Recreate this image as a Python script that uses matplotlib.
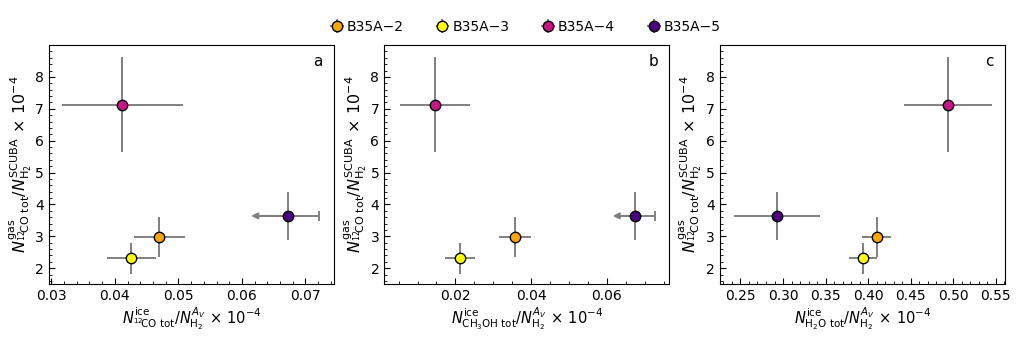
import numpy as np
import matplotlib
matplotlib.use('Agg')
import matplotlib.pyplot as plt
from matplotlib.ticker import AutoMinorLocator, MultipleLocator

sources = ['B35A\u22122', 'B35A\u22123', 'B35A\u22124', 'B35A\u22125']
colors = ['orange', 'yellow', 'mediumvioletred', 'indigo']

# gas-phase CO / N(H2) SCUBA (x 1e-4), shared by all panels
co_gas = [2.97, 2.31, 7.13, 3.64]
co_gas_err = [0.62, 0.48, 1.50, 0.76]

# ice column densities / N(H2) from A_V (x 1e-4)
co_ice = [0.0470, 0.0426, 0.0412, 0.0672]
co_ice_err = [0.0040, 0.0039, 0.0095, 0.0050]
ch3oh_ice = [0.0358, 0.0213, 0.0146, 0.0675]
ch3oh_ice_err = [0.0042, 0.0040, 0.0092, 0.0052]
h2o_ice = [0.410, 0.394, 0.494, 0.293]
h2o_ice_err = [0.017, 0.016, 0.052, 0.051]

# sources with only an upper limit on the ice abundance, per panel
uplim = [[False, False, False, True],
         [False, False, False, True],
         [False, False, False, False]]

panels = [
    (co_ice, co_ice_err, 'a', (0.0296, 0.0745), 0.01,
     r'$N^{\rm ice}_{^{12}\!{\rm CO\ tot}}/N^{A_V}_{\rm H_2}\,\times\,10^{-4}$'),
    (ch3oh_ice, ch3oh_ice_err, 'b', (0.0012, 0.0765), 0.02,
     r'$N^{\rm ice}_{\rm CH_3OH\ tot}/N^{A_V}_{\rm H_2}\,\times\,10^{-4}$'),
    (h2o_ice, h2o_ice_err, 'c', (0.2255, 0.5605), 0.05,
     r'$N^{\rm ice}_{\rm H_2O\ tot}/N^{A_V}_{\rm H_2}\,\times\,10^{-4}$'),
]
ylab = r'$N^{\rm gas}_{^{12}\!{\rm CO\ tot}}/N^{\rm SCUBA}_{\rm H_2}\,\times\,10^{-4}$'

ecol = 'grey'
fig, axes = plt.subplots(1, 3, figsize=(10.17, 3.39), dpi=100)
plt.subplots_adjust(left=0.048, right=0.988, bottom=0.162, top=0.867, wspace=0.176)

handles = []
for k, (ax, (xv, xe, tag, xl, step, xlab)) in enumerate(zip(axes, panels)):
    for i in range(len(sources)):
        h = ax.errorbar(xv[i], co_gas[i], xerr=xe[i], yerr=co_gas_err[i], fmt='o',
                        color=colors[i], mec='k', mew=1, ms=7.5, ecolor=ecol,
                        elinewidth=1.4, zorder=3)
        if k == 0:
            handles.append(h)
        if uplim[k][i]:
            ax.plot(xv[i] + xe[i], co_gas[i], marker='|', color=ecol, ms=7, mew=1.4, zorder=2)
            ax.annotate('', xy=(xv[i] - 1.15 * xe[i], co_gas[i]), xytext=(xv[i], co_gas[i]),
                        arrowprops=dict(arrowstyle='-|>', color=ecol, lw=1.4,
                                        mutation_scale=9, shrinkA=0, shrinkB=0), zorder=2)
    ax.set_xlim(*xl)
    ax.set_ylim(1.5, 9.0)
    ax.set_yticks([2, 3, 4, 5, 6, 7, 8])
    ax.xaxis.set_major_locator(MultipleLocator(step))
    ax.xaxis.set_minor_locator(AutoMinorLocator())
    ax.yaxis.set_minor_locator(AutoMinorLocator())
    ax.tick_params(which='both', direction='in', labelsize=10)
    ax.tick_params(which='major', length=4)
    ax.tick_params(which='minor', length=2)
    ax.set_xlabel(xlab, fontsize=10.5, labelpad=2)
    ax.set_ylabel(ylab, fontsize=11.5, labelpad=1)
    ax.text(0.96, 0.93, tag, transform=ax.transAxes, ha='right', va='center', fontsize=11)

fig.legend(handles, sources, loc='center', bbox_to_anchor=(0.515, 0.92), ncol=4,
           frameon=False, fontsize=10, handletextpad=0.0, handlelength=1.4,
           columnspacing=2.1)

fig.savefig('out.png', dpi=100)
